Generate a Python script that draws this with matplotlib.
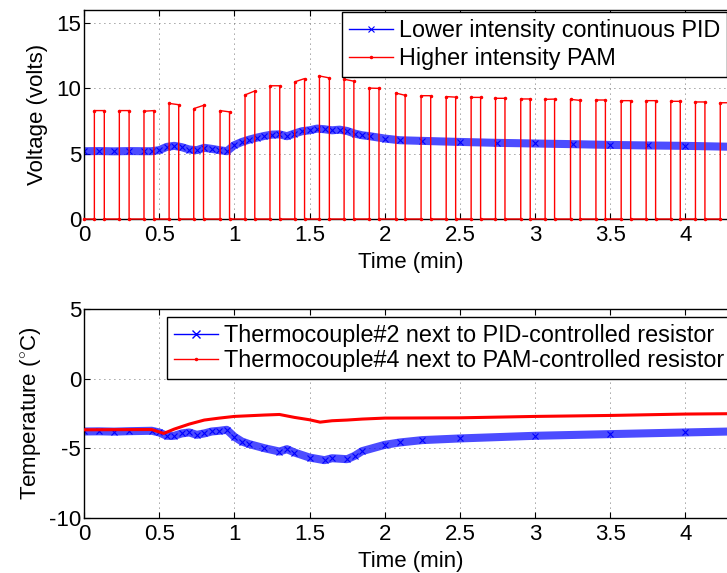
import matplotlib
matplotlib.use("Agg")
import matplotlib.pyplot as plt
from matplotlib.lines import Line2D
from matplotlib.ticker import MultipleLocator, FormatStrFormatter

# ---------------- data ----------------
# top panel: PID voltage (min, volts)
pid_t = [0.0, 0.1, 0.2, 0.3, 0.4, 0.45, 0.5, 0.55, 0.6, 0.65, 0.7, 0.75, 0.8,
         0.85, 0.9, 0.95, 1.0, 1.05, 1.1, 1.15, 1.2, 1.25, 1.3, 1.35, 1.4,
         1.45, 1.5, 1.55, 1.6, 1.65, 1.7, 1.75, 1.8, 1.85, 1.9, 2.0, 2.1,
         2.25, 2.5, 2.75, 3.0, 3.25, 3.5, 3.75, 4.0, 4.35]
pid_v = [5.19, 5.2, 5.18, 5.2, 5.19, 5.19, 5.27, 5.52, 5.6, 5.5, 5.32, 5.27,
         5.45, 5.37, 5.27, 5.19, 5.65, 5.9, 6.08, 6.23, 6.36, 6.46, 6.48,
         6.34, 6.54, 6.72, 6.79, 6.92, 6.87, 6.79, 6.84, 6.74, 6.54, 6.41,
         6.34, 6.16, 6.03, 5.98, 5.9, 5.83, 5.78, 5.73, 5.67, 5.63, 5.6, 5.52]

# top panel: PAM pulses (on / off time, level at start / end of pulse)
pulse_on = [0.069, 0.235, 0.399, 0.566, 0.730, 0.905, 1.071, 1.237, 1.402,
            1.566, 1.730, 1.898, 2.074, 2.242, 2.409, 2.575, 2.737, 2.905,
            3.067, 3.236, 3.405, 3.573, 3.739, 3.903, 4.067, 4.232]
pulse_off = [0.135, 0.300, 0.465, 0.630, 0.795, 0.968, 1.136, 1.302, 1.467,
             1.632, 1.795, 1.962, 2.136, 2.306, 2.472, 2.638, 2.800, 2.968,
             3.130, 3.300, 3.468, 3.636, 3.802, 3.966, 4.130, 4.296]
pulse_hi0 = [8.3, 8.3, 8.25, 8.85, 8.45, 8.3, 9.5, 10.2, 10.5, 10.95, 10.7,
             10.02, 9.64, 9.44, 9.37, 9.31, 9.24, 9.19, 9.16, 9.16, 9.11,
             9.06, 9.06, 9.01, 8.96, 8.9]
pulse_hi1 = [8.3, 8.3, 8.3, 8.75, 8.7, 8.2, 9.8, 10.2, 10.75, 10.8, 10.55,
             10.0, 9.47, 9.44, 9.33, 9.31, 9.24, 9.19, 9.18, 9.08, 9.11,
             9.06, 9.06, 9.01, 8.96, 8.9]
t_start, t_end = 0.0, 4.35

# bottom panel: thermocouples (min, deg C)
tc2_t = [0.0, 0.1, 0.2, 0.3, 0.45, 0.5, 0.55, 0.6, 0.65, 0.7, 0.75, 0.8,
         0.85, 0.9, 0.95, 1.0, 1.05, 1.1, 1.2, 1.3, 1.35, 1.4, 1.5, 1.6,
         1.65, 1.75, 1.8, 1.85, 2.0, 2.1, 2.25, 2.5, 3.0, 3.5, 4.0, 4.35]
tc2_v = [-3.79, -3.78, -3.8, -3.77, -3.74, -3.86, -4.1, -4.1, -3.93, -3.86,
         -4.03, -3.93, -3.79, -3.74, -3.67, -4.17, -4.51, -4.7, -4.99, -5.23,
         -5.06, -5.3, -5.66, -5.85, -5.71, -5.78, -5.54, -5.2, -4.75, -4.58,
         -4.41, -4.29, -4.1, -3.98, -3.86, -3.78]
tc4_t = [0.0, 0.2, 0.45, 0.53, 0.6, 0.7, 0.8, 0.9, 1.0, 1.1, 1.2, 1.3, 1.4,
         1.5, 1.57, 1.65, 1.75, 1.85, 2.0, 2.5, 3.0, 3.5, 4.0, 4.35]
tc4_v = [-3.67, -3.66, -3.65, -3.93, -3.62, -3.26, -2.97, -2.83, -2.71,
         -2.66, -2.61, -2.57, -2.78, -2.95, -3.12, -3.02, -2.97, -2.9, -2.83,
         -2.81, -2.71, -2.64, -2.54, -2.51]

# ---------------- style ----------------
plt.rcParams["font.family"] = ["Liberation Sans", "DejaVu Sans"]
plt.rcParams["mathtext.fontset"] = "custom"
plt.rcParams["mathtext.rm"] = "Liberation Sans"
FS = 16
LEG_FS = 16.8
BLUE = "#0000ff"
RED = "#ff0000"

fig = plt.figure(figsize=(7.27, 5.73), dpi=100)
W, H = 727.0, 573.0
ax1 = fig.add_axes([84 / W, 1 - 219 / H, (738 - 84) / W, 209 / H])
ax2 = fig.add_axes([84 / W, 1 - 518 / H, (738 - 84) / W, 209 / H])


def style(ax, ymin, ymax):
    ax.set_xlim(t_start, t_end)
    ax.set_ylim(ymin, ymax)
    ax.xaxis.set_major_locator(MultipleLocator(0.5))
    ax.yaxis.set_major_locator(MultipleLocator(5))
    ax.xaxis.set_major_formatter(FormatStrFormatter("%g"))
    ax.yaxis.set_major_formatter(FormatStrFormatter("%g"))
    ax.tick_params(direction="in", top=True, right=True, labelsize=FS,
                   length=4, width=0.8)
    ax.tick_params(axis="x", pad=4)
    ax.tick_params(axis="y", pad=2)
    ax.grid(True, color="#444444", linewidth=0.6, linestyle=(0, (1, 5)))
    for sp in ax.spines.values():
        sp.set_linewidth(1.0)
    ax.set_xlabel("Time (min)", fontsize=FS, labelpad=4.5)


# ---------------- top panel ----------------
pam_x, pam_y = [t_start], [0.0]
for on, off, h0, h1 in zip(pulse_on, pulse_off, pulse_hi0, pulse_hi1):
    pam_x += [on, on, off, off]
    pam_y += [0.0, h0, h1, 0.0]
pam_x.append(t_end)
pam_y.append(0.0)

ax1.plot(pid_t, pid_v, color=BLUE, lw=5.8, alpha=0.7, solid_capstyle="butt")
ax1.plot(pid_t, pid_v, "x", color=BLUE, ms=5, mew=0.8)
ax1.plot(pam_x, pam_y, color=RED, lw=1.0, marker=".", ms=3, zorder=3,
         clip_on=False)
style(ax1, 0, 16)
ax1.set_ylabel("Voltage (volts)", fontsize=FS, labelpad=6)

h_pid = Line2D([], [], color=BLUE, lw=1, marker="x", ms=5, mew=0.8)
h_pam = Line2D([], [], color=RED, lw=1, marker=".", ms=3)
leg1 = ax1.legend([h_pid, h_pam],
                  ["Lower intensity continuous PID", "Higher intensity PAM"],
                  loc="upper left", bbox_to_anchor=(342 / W, 1 - 12 / H),
                  bbox_transform=fig.transFigure, borderaxespad=0,
                  fontsize=LEG_FS, fancybox=False, framealpha=1,
                  edgecolor="black", handlelength=1.9, handletextpad=0.25,
                  borderpad=0.3, labelspacing=0.2)
leg1.get_frame().set_linewidth(1.0)

# ---------------- bottom panel ----------------
ax2.plot(tc2_t, tc2_v, color=BLUE, lw=5.8, alpha=0.7, solid_capstyle="butt")
ax2.plot(tc2_t, tc2_v, "x", color=BLUE, ms=5, mew=0.8)
ax2.plot(tc4_t, tc4_v, color=RED, lw=2.2, zorder=3)
style(ax2, -10, 5)
ax2.set_ylabel(r"Temperature ($^{\circ}$C)", fontsize=FS, labelpad=4)

h_tc2 = Line2D([], [], color=BLUE, lw=1, marker="x", ms=6, mew=1)
h_tc4 = Line2D([], [], color=RED, lw=1, marker=".", ms=3)
leg2 = ax2.legend([h_tc2, h_tc4],
                  ["Thermocouple#2 next to PID-controlled resistor",
                   "Thermocouple#4 next to PAM-controlled resistor"],
                  loc="upper left", bbox_to_anchor=(167 / W, 1 - 317 / H),
                  bbox_transform=fig.transFigure, borderaxespad=0,
                  fontsize=LEG_FS, fancybox=False, framealpha=1,
                  edgecolor="black", handlelength=1.9, handletextpad=0.25,
                  borderpad=0.3, labelspacing=0.1)
leg2.get_frame().set_linewidth(1.0)

fig.savefig("out.png", dpi=100, facecolor="white")
